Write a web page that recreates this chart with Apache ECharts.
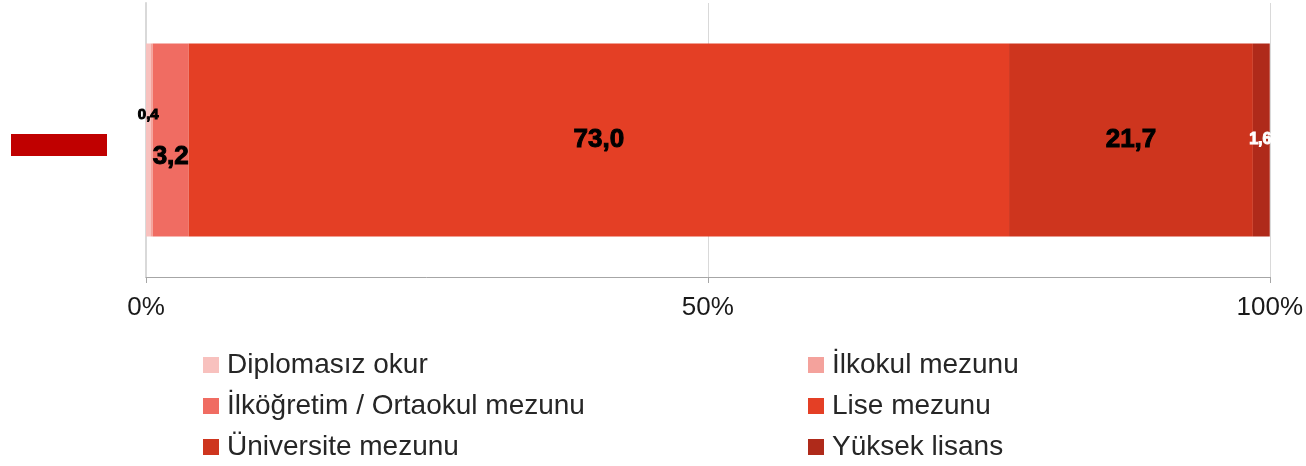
<!DOCTYPE html>
<html>
<head>
<meta charset="utf-8">
<title>Eğitim durumu</title>
<script src="https://cdn.jsdelivr.net/npm/echarts@6/dist/echarts.min.js"></script>
<style>
  html, body { margin: 0; padding: 0; background: #fff; }
  #chart { width: 1306px; height: 466px; }
</style>
</head>
<body>
<div id="chart"></div>
<script>
// data (percent)
var categories = ['']
var seriesNames = ['Diplomasız okur', 'İlkokul mezunu', 'İlköğretim / Ortaokul mezunu', 'Lise mezunu', 'Üniversite mezunu', 'Yüksek lisans']
var diplomasiz = [0.4]
var ilkokul = [0.2]
var ilkogretim = [3.2]
var lise = [73.0]
var universite = [21.7]
var yuksekLisans = [1.6]
var xTicks = [0, 50, 100]

var colors = ['#F8C1BE', '#F4A29C', '#F06C62', '#E43F25', '#CE351E', '#AF2A1A']
var fontFamily = '"Liberation Sans", Arial, sans-serif'

function fmt(p) {
  return p.value.toFixed(1).replace('.', ',')
}

function makeSeries(name, data, idx, label) {
  return {
    name: name,
    type: 'bar',
    stack: 'total',
    barWidth: 193,
    itemStyle: { color: colors[idx] },
    label: label || { show: false },
    emphasis: { disabled: true },
    data: data
  }
}

function boldLabel(size, color, offset) {
  return {
    show: true,
    formatter: fmt,
    color: color,
    fontWeight: 'bold',
    fontSize: size,
    fontFamily: fontFamily,
    textBorderColor: color,
    textBorderWidth: 1,
    offset: offset || [0, 0]
  }
}

var legendBase = {
  orient: 'vertical',
  top: 351,
  height: 200,
  padding: 0,
  itemWidth: 16,
  itemHeight: 16,
  itemGap: 13,
  icon: 'rect',
  textStyle: { fontSize: 28, color: '#262626', fontFamily: fontFamily, padding: [0, 0, 0, 3] }
}

var chart = echarts.init(document.getElementById('chart'))
chart.setOption({
  animation: false,
  backgroundColor: '#fff',
  textStyle: { fontFamily: fontFamily },
  grid: { left: 146, right: 36, top: 3, bottom: 189 },
  legend: [
    Object.assign({}, legendBase, { left: 203, data: [seriesNames[0], seriesNames[2], seriesNames[4]] }),
    Object.assign({}, legendBase, { left: 808, data: [seriesNames[1], seriesNames[3], seriesNames[5]] })
  ],
  xAxis: {
    type: 'value',
    min: xTicks[0],
    max: xTicks[xTicks.length - 1],
    interval: xTicks[1] - xTicks[0],
    axisLine: { show: true, lineStyle: { color: '#a6a6a6', width: 1 } },
    axisTick: { show: true, length: 6, lineStyle: { color: '#a6a6a6' } },
    splitLine: { show: true, lineStyle: { color: '#d9d9d9', width: 1 } },
    axisLabel: {
      formatter: '{value}%',
      fontSize: 26,
      color: '#1a1a1a',
      margin: 18,
      fontFamily: fontFamily
    }
  },
  yAxis: {
    type: 'category',
    data: categories,
    axisLine: { show: true, lineStyle: { color: '#d9d9d9', width: 2 } },
    axisTick: { show: false },
    axisLabel: {
      margin: 39,
      padding: [10, 0, 0, 0],
      formatter: function() { return '{box|}' },
      rich: {
        box: { width: 96, height: 22, backgroundColor: '#C00000' }
      }
    }
  },
  series: [
    makeSeries(seriesNames[0], diplomasiz, 0, boldLabel(15, '#000', [0, -25])),
    makeSeries(seriesNames[1], ilkokul, 1),
    makeSeries(seriesNames[2], ilkogretim, 2, boldLabel(26, '#000', [0, 17])),
    makeSeries(seriesNames[3], lise, 3, boldLabel(26, '#000')),
    makeSeries(seriesNames[4], universite, 4, boldLabel(26, '#000')),
    makeSeries(seriesNames[5], yuksekLisans, 5, boldLabel(16, '#fff', [-1, 0]))
  ]
})
</script>
</body>
</html>
